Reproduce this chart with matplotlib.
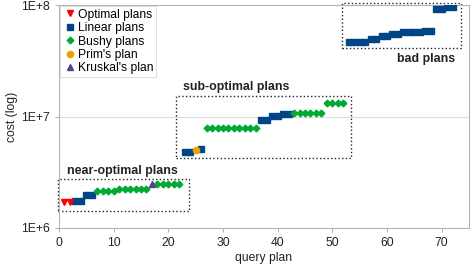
import matplotlib.pyplot as plt
from matplotlib.patches import Rectangle

plt.rcParams['font.family'] = ['Liberation Sans', 'DejaVu Sans']

opt_x = [1, 2]
opt_y = [1.7e6, 1.7e6]

linear_x = [3, 4, 5, 6, 23, 24, 26, 37, 38, 39, 40, 41, 42,
            53, 54, 55, 56, 57, 58, 59, 60, 61, 62, 63, 64, 65, 66, 67, 68, 69, 70, 71, 72]
linear_y = [1.75e6, 1.75e6, 1.98e6, 1.98e6, 4.77e6, 4.77e6, 5.08e6,
            9.4e6, 9.4e6, 1.02e7, 1.02e7, 1.05e7, 1.05e7,
            4.69e7, 4.69e7, 4.69e7, 4.69e7, 4.96e7, 4.96e7, 5.31e7, 5.31e7,
            5.53e7, 5.53e7, 5.69e7, 5.69e7, 5.69e7, 5.69e7, 5.88e7, 5.88e7,
            9.2e7, 9.2e7, 9.66e7, 9.66e7]

bushy_x = [7, 8, 9, 10, 11, 12, 13, 14, 15, 16, 18, 19, 20, 21, 22,
           27, 28, 29, 30, 31, 32, 33, 34, 35, 36,
           43, 44, 45, 46, 47, 48, 49, 50, 51, 52]
bushy_y = [2.15e6] * 4 + [2.24e6] * 6 + [2.5e6] * 5 + [7.84e6] * 10 + [1.07e7] * 6 + [1.33e7] * 4

prim_x = [25]
prim_y = [4.98e6]
kruskal_x = [17]
kruskal_y = [2.47e6]

# group boxes: (x0, x1, y0, y1)
boxes = [(-0.2, 23.8, 1.42e6, 2.75e6),
         (21.4, 53.5, 4.22e6, 1.54e7),
         (51.8, 73.5, 4.14e7, 1.04e8)]

fig = plt.figure(figsize=(4.73, 2.66), dpi=100)
ax = fig.add_axes([0.1247, 0.1429, 0.8668, 0.8381])

ax.plot(linear_x, linear_y, ls='none', marker='s', ms=3.9, color='#004586', label='Linear plans', zorder=3)
ax.plot(bushy_x, bushy_y, ls='none', marker='D', ms=3.4, color='#00a933', label='Bushy plans', zorder=3)
ax.plot(prim_x, prim_y, ls='none', marker='o', ms=4.5, color='#eea100', label="Prim's plan", zorder=4)
ax.plot(kruskal_x, kruskal_y, ls='none', marker='^', ms=5, color='#5b3d91', label="Kruskal's plan", zorder=4)
ax.plot(opt_x, opt_y, ls='none', marker='v', ms=5, color='#ff0000', label='Optimal plans', zorder=4)

for x0, x1, y0, y1 in boxes:
    ax.add_patch(Rectangle((x0, y0), x1 - x0, y1 - y0, fill=False, ls=':', lw=1,
                           ec='#222222', clip_on=False, zorder=2))

ax.text(1.4, 3.27e6, 'near-optimal plans', fontsize=8.9, fontweight='bold', va='center', color='#222222')
ax.text(22.6, 1.85e7, 'sub-optimal plans', fontsize=8.9, fontweight='bold', va='center', color='#222222')
ax.text(72.4, 3.3e7, 'bad plans', fontsize=8.9, fontweight='bold', va='center', ha='right', color='#222222')

ax.set_yscale('log')
ax.set_ylim(1e6, 1e8)
ax.set_xlim(0, 75)
ax.set_yticks([1e6, 1e7, 1e8])
ax.set_yticklabels(['1E+6', '1E+7', '1E+8'])
ax.minorticks_off()
ax.set_xticks([0, 10, 20, 30, 40, 50, 60, 70])
ax.tick_params(labelsize=8.7, colors='#b3b3b3', labelcolor='#222222', length=3)
ax.grid(axis='y', color='#dddddd', lw=0.8)
ax.set_axisbelow(True)
for s in ax.spines.values():
    s.set_color('#b3b3b3')

ax.set_xlabel('query plan', fontsize=8.7, labelpad=2.5, color='#222222')
ax.set_ylabel('cost (log)', fontsize=8.7, labelpad=2, color='#222222')

h, l = ax.get_legend_handles_labels()
order = [4, 0, 1, 2, 3]
leg = ax.legend([h[i] for i in order], [l[i] for i in order], loc='upper left', fontsize=8.7,
                fancybox=False, framealpha=1, edgecolor='#d9d9d9', borderpad=0.2,
                labelspacing=0.12, handletextpad=0.1, handlelength=1.2, borderaxespad=0.1)
leg.get_frame().set_linewidth(0.6)

fig.savefig('out.png', dpi=100)
